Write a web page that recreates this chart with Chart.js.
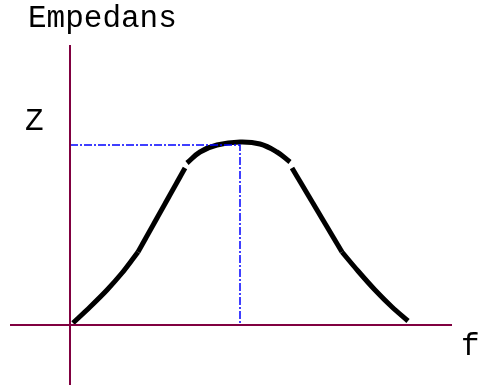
<!DOCTYPE html>
<html>
<head>
<meta charset="utf-8">
<script src="https://cdn.jsdelivr.net/npm/chart.js@4/dist/chart.umd.min.js"></script>
<style>
  html, body { margin: 0; padding: 0; background: #fff; }
</style>
</head>
<body>
<canvas id="impChart" width="480" height="388"></canvas>
<script>
// curve pieces (f, Z) - the original has small kinks/breaks between them
const footLeft = [[3, 2], [20, 18], [37, 35], [52, 52], [62, 65], [68, 73]];
const riseLeft = [[68, 73], [115, 157]];
const peakArc = [[117, 162], [130, 173], [147, 180], [170, 183], [190, 181], [207, 173], [220, 163]];
const fallRight = [[222, 157], [272, 73]];
const footRight = [[272, 73], [288, 54], [305, 35], [322, 18], [338, 4]];

// resonance marker
const fRes = 170;
const zMax = 180;

// axis extents
const fAxis = [-60, 382];
const zAxis = [-60, 280];

const axisColor = '#800040';

const toPts = (arr) => arr.map(p => ({ x: p[0], y: p[1] }));

const curveStyle = {
  showLine: true,
  borderColor: '#000',
  borderWidth: 5,
  pointRadius: 0,
  tension: 0,
  borderCapStyle: 'butt',
  borderJoinStyle: 'round',
};

const dashStyle = {
  showLine: true,
  borderColor: '#0000ff',
  borderWidth: 1.5,
  borderDash: [8, 2, 2, 2],
  pointRadius: 0,
};

const labelsPlugin = {
  id: 'labels',
  afterDraw(chart) {
    const ctx = chart.ctx;
    const xs = chart.scales.x, ys = chart.scales.y;
    ctx.save();
    ctx.fillStyle = '#000';
    ctx.font = '31px "Liberation Mono", "Courier New", monospace';
    ctx.textBaseline = 'alphabetic';
    ctx.fillText('Empedans', 28, 27);
    ctx.fillText('Z', 25, ys.getPixelForValue(zMax) - 15);
    ctx.fillText('f', xs.getPixelForValue(fAxis[1]) + 9, ys.getPixelForValue(0) + 30);
    ctx.restore();
  }
};

new Chart(document.getElementById('impChart'), {
  type: 'scatter',
  data: {
    datasets: [
      { data: [{ x: fAxis[0], y: 0 }, { x: fAxis[1], y: 0 }], showLine: true, borderColor: axisColor, borderWidth: 2, pointRadius: 0 },
      { data: [{ x: 0, y: zAxis[0] }, { x: 0, y: zAxis[1] }], showLine: true, borderColor: axisColor, borderWidth: 2, pointRadius: 0 },
      { data: [{ x: 0, y: zMax }, { x: fRes, y: zMax }, { x: fRes, y: 0 }], ...dashStyle },
      { data: toPts(footLeft), ...curveStyle, tension: 0.3 },
      { data: toPts(riseLeft), ...curveStyle },
      { data: toPts(peakArc), ...curveStyle, tension: 0.4 },
      { data: toPts(fallRight), ...curveStyle },
      { data: toPts(footRight), ...curveStyle, tension: 0.3 },
    ]
  },
  options: {
    responsive: false,
    animation: false,
    layout: { padding: 0 },
    plugins: { legend: { display: false }, tooltip: { enabled: false } },
    scales: {
      x: { type: 'linear', display: false, min: -70, max: 410 },
      y: { type: 'linear', display: false, min: -63, max: 325 },
    }
  },
  plugins: [labelsPlugin]
});
</script>
</body>
</html>
